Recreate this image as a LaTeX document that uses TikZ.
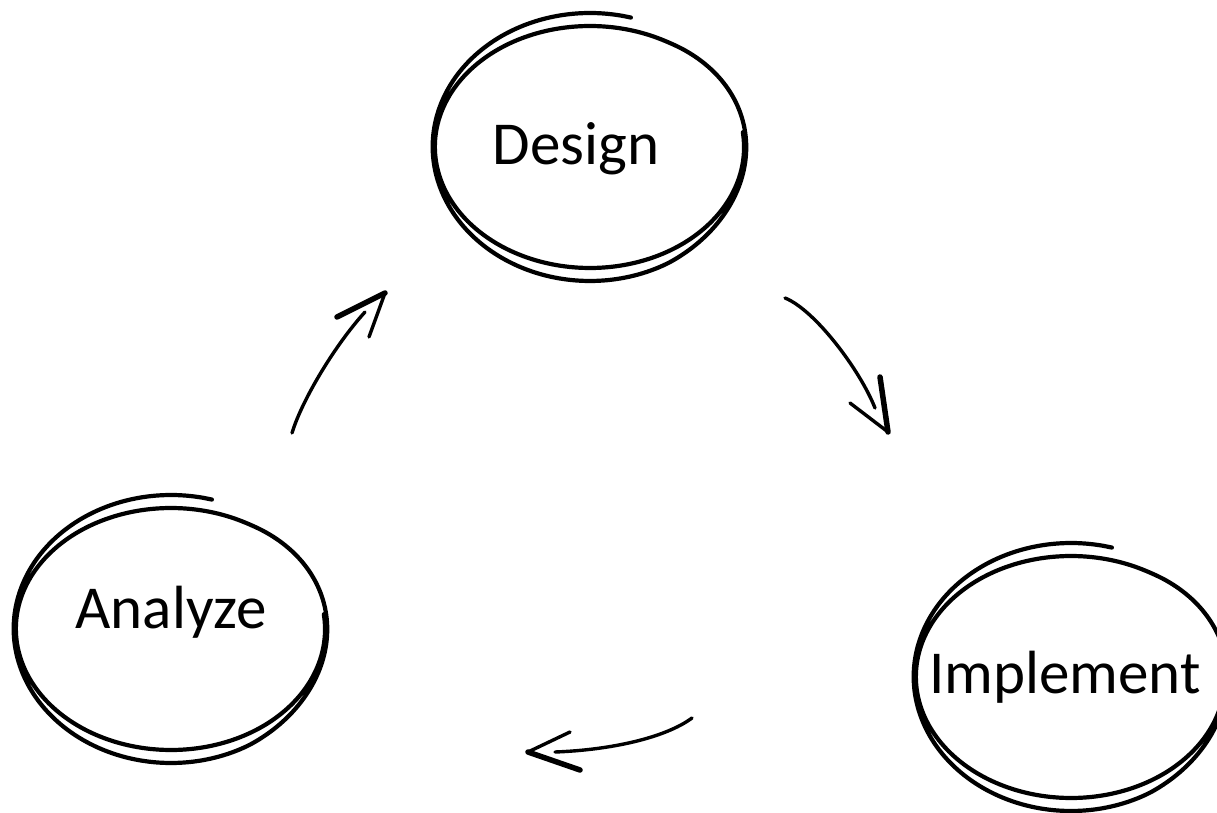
\documentclass[tikz,border=0pt]{standalone}
\usepackage{fontspec}
\setmainfont{Carlito}
\tikzset{
  loopink/.style={line width=4.2pt, line cap=round, line join=round},
  ink/.style={line width=3.4pt, line cap=round, line join=round},
  heavyink/.style={line width=5.5pt, line cap=round},
  phase/.style={font=\fontsize{61}{73}\selectfont, inner sep=0pt, anchor=base},
  % hand-drawn double loop around a stage label
  scribble/.pic={
    \draw[loopink] plot[smooth, domain=75:727, samples=200, variable=\t]
      ({(158-4*(\t-75)/652)*cos(\t)},
       {(121+13*(\t<300)+(\t>=300)*(\t<420)*13*(420-\t)/120)*sin(\t)});
  },
}
\begin{document}
\begin{tikzpicture}[x=1pt, y=1pt]
\clip (0,0) rectangle (1217,812);
\useasboundingbox (0,0) rectangle (1217,812);

% stage labels
\node[phase] (design)    at (576,647)  {Design};
\node[phase] (analyze)   at (171,184)  {Analyze};
\node[phase] (implement) at (1065,119) {Implement};

% loops around the labels
\pic at (590,665)  {scribble};
\pic at (171,183)  {scribble};
\pic at (1071,135) {scribble};

% arrow end points
\coordinate (a1s) at (292,379);  \coordinate (a1e) at (365,500);
\coordinate (a1t) at (385,519);  \coordinate (a1l) at (337,495); \coordinate (a1r) at (369,475);
\coordinate (a2s) at (785,514);  \coordinate (a2e) at (875,404);
\coordinate (a2t) at (888,380);  \coordinate (a2l) at (880,435); \coordinate (a2r) at (850,409);
\coordinate (a3s) at (692,94);   \coordinate (a3e) at (555,60);
\coordinate (a3t) at (528,60);   \coordinate (a3l) at (570,80);  \coordinate (a3r) at (580,42);

% Analyze -> Design
\draw[ink] (a1s) .. controls (302,412) and (335,467) .. (a1e);
\draw[heavyink] (a1l) -- (a1t);
\draw[ink] (a1t) -- (a1r);

% Design -> Implement
\draw[ink] (a2s) .. controls (815,502) and (860,442) .. (a2e);
\draw[heavyink] (a2l) -- (a2t);
\draw[ink] (a2t) -- (a2r);

% Implement -> Analyze
\draw[ink] (a3s) .. controls (665,74) and (610,62) .. (a3e);
\draw[ink] (a3l) -- (a3t);
\draw[heavyink] (a3t) -- (a3r);
\end{tikzpicture}
\end{document}
